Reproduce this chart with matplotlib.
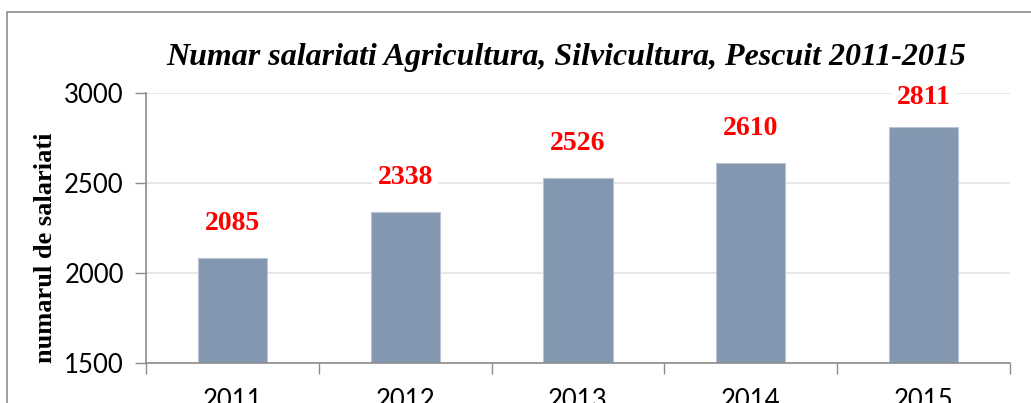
import matplotlib
matplotlib.use("Agg")
import matplotlib.pyplot as plt
from matplotlib.patches import Rectangle

years = ["2011", "2012", "2013", "2014", "2015"]
values = [2085, 2338, 2526, 2610, 2811]
yticks = [1500, 2000, 2500, 3000]
title = "Numar salariati Agricultura, Silvicultura, Pescuit 2011-2015"
ylabel = "numarul de salariati"

W, H = 1031, 403
fig = plt.figure(figsize=(W / 100, H / 100), dpi=100)
fig.patch.set_facecolor("white")

# outer chart border (left & top visible, extends beyond right/bottom)
fig.patches.append(Rectangle((7 / W, -0.1), 1.2, 1 - 12 / H + 0.1,
                             transform=fig.transFigure, fill=False,
                             edgecolor="#8c8c8c", linewidth=1.2))

ax = fig.add_axes([146 / W, 1 - 363.3 / H, (1010 - 146) / W, (363.3 - 92.7) / H])
x = list(range(len(years)))
ax.bar(x, values, width=0.4, color="#8497b0", edgecolor="#b8c4d3", linewidth=0.8, zorder=2)
ax.set_xlim(-0.5, len(years) - 0.5)
ax.set_ylim(1500, 3000)
ax.set_yticks(yticks)
ax.set_yticklabels([str(v) for v in yticks], fontfamily="Lato", fontsize=18.5)
ax.set_xticks(x)
ax.set_xticklabels(years, fontfamily="Lato", fontsize=18.5)
ax.set_xticks([i - 0.5 for i in range(len(years) + 1)], minor=True)
ax.tick_params(axis="x", which="major", length=0, pad=18)
ax.tick_params(axis="x", which="minor", length=8, color="#8c8c8c", width=1)
ax.tick_params(axis="y", length=8, color="#8c8c8c", width=1, pad=8)
ax.grid(axis="y", color="#e3e3e3", linewidth=1.2, zorder=0)
ax.set_axisbelow(True)
for s in ["top", "right"]:
    ax.spines[s].set_visible(False)
for s in ["left", "bottom"]:
    ax.spines[s].set_color("#8c8c8c")
    ax.spines[s].set_linewidth(1.2)

for xi, v in zip(x, values):
    ly = min(v + 192, 2975)
    ax.text(xi, ly, str(v), ha="center", va="center", color="#ff0000", fontsize=20,
            fontweight="bold", fontfamily="Liberation Serif", zorder=3, clip_on=False,
            bbox=dict(boxstyle="square,pad=0.2", facecolor="white", edgecolor="none"))

fig.text(566 / W, 1 - 57 / H, title, ha="center", va="center", fontsize=23,
         fontweight="bold", fontstyle="italic", fontfamily="Liberation Serif")
fig.text(45 / W, 1 - 248 / H, ylabel, ha="center", va="center", rotation=90,
         fontsize=19, fontweight="bold", fontfamily="Liberation Serif")

fig.savefig("out.png", dpi=100)
